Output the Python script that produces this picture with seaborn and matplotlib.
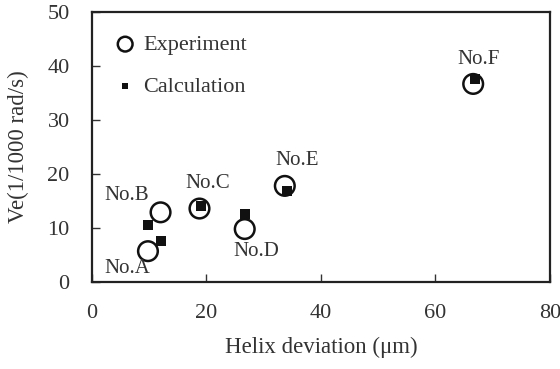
import seaborn as sns
import matplotlib.pyplot as plt
import pandas as pd

# experiment (circles) and calculation (squares)
names = ["No.A", "No.B", "No.C", "No.D", "No.E", "No.F"]
exp_x = [9.8, 12.0, 18.8, 26.7, 33.7, 66.6]
exp_y = [5.7, 12.9, 13.6, 9.8, 17.8, 36.7]
calc_x = [12.0, 9.8, 19.1, 26.7, 34.0, 67.0]
calc_y = [7.5, 10.6, 14.1, 12.5, 16.8, 37.6]

# label offsets from the experiment circles (pixels)
label_dx = [-21, -34, 8, 12, 12, 5]
label_dy = [-17, 17, 25, -22, 25, 24]

sns.set_style("ticks")
plt.rcParams["font.family"] = ["Liberation Serif", "DejaVu Serif"]

fig, ax = plt.subplots(figsize=(5.6, 3.69), dpi=100)
fig.subplots_adjust(left=0.164, right=0.982, top=0.967, bottom=0.236)

df_exp = pd.DataFrame({"x": exp_x, "y": exp_y})
df_calc = pd.DataFrame({"x": calc_x, "y": calc_y})

sns.scatterplot(data=df_calc, x="x", y="y", ax=ax, marker="s", s=42,
                color="#111111", edgecolor="#111111", linewidth=0,
                label="Calculation", zorder=3)
sns.scatterplot(data=df_exp, x="x", y="y", ax=ax, marker="o", s=200,
                facecolor="none", edgecolor="#111111", linewidth=1.8,
                label="Experiment", zorder=2)

for i in range(len(names)):
    ax.annotate(names[i], (exp_x[i], exp_y[i]),
                xytext=(label_dx[i], label_dy[i]), textcoords="offset pixels",
                ha="center", va="center", fontsize=15, color="#333333")

ax.set_xlim(0, 80)
ax.set_ylim(0, 50)
ax.set_xticks([0, 20, 40, 60, 80])
ax.set_yticks([0, 10, 20, 30, 40, 50])
ax.tick_params(direction="in", length=6, width=1, labelsize=16,
               colors="#333333", pad=16)
for s in ax.spines.values():
    s.set_linewidth(1.6)
    s.set_color("#222222")

ax.set_xlabel("Helix deviation (\u03bcm)", fontsize=16.5, color="#333333", labelpad=10)
ax.set_ylabel("Ve(1/1000 rad/s)", fontsize=16.5, color="#333333", labelpad=13)

handles, labels = ax.get_legend_handles_labels()
leg = ax.legend(handles[::-1], labels[::-1], loc="upper left", frameon=False,
                fontsize=16, markerscale=0.75, labelspacing=0.95,
                handlelength=1.0, handletextpad=0.3, borderaxespad=0.6)
for t in leg.get_texts():
    t.set_color("#333333")

plt.savefig("out.png", dpi=100)
